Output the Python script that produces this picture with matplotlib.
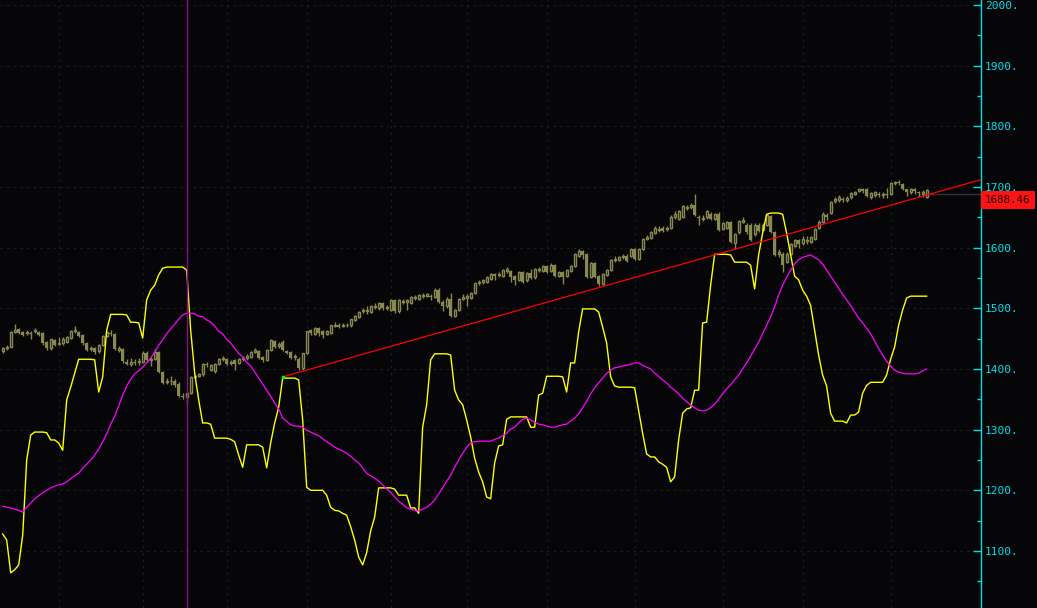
import matplotlib
matplotlib.use("Agg")
import matplotlib.pyplot as plt
from matplotlib.ticker import MultipleLocator, FuncFormatter
import numpy as np

# daily candles (bar index 0 = first bar on the left)
opens = [
    1429, 1434, 1437, 1461, 1466, 1461, 1459, 1460, 1462, 1461,
    1459, 1444, 1434, 1447, 1441, 1442, 1445, 1451, 1462, 1461,
    1456, 1442, 1433, 1434, 1429, 1440, 1455, 1460, 1457, 1432,
    1433, 1411, 1409, 1412, 1411, 1412, 1427, 1415, 1417, 1428,
    1395, 1378, 1380, 1380, 1375, 1356, 1353, 1360, 1387, 1389,
    1391, 1409, 1398, 1397, 1409, 1416, 1416, 1410, 1414, 1410,
    1416, 1418, 1420, 1428, 1430, 1420, 1415, 1431, 1446, 1438,
    1445, 1430, 1428, 1419, 1417, 1402, 1426, 1464, 1458, 1467,
    1463, 1458, 1460, 1471, 1473, 1471, 1472, 1472, 1481, 1486,
    1495, 1496, 1494, 1502, 1500, 1509, 1500, 1498, 1514, 1495,
    1510, 1511, 1509, 1517, 1516, 1520, 1521, 1521, 1519, 1531,
    1511, 1503, 1516, 1487, 1497, 1516, 1517, 1517, 1525, 1542,
    1543, 1544, 1549, 1556, 1555, 1554, 1562, 1561, 1553, 1547,
    1560, 1546, 1558, 1551, 1563, 1562, 1570, 1562, 1571, 1554,
    1560, 1553, 1562, 1570, 1586, 1594, 1589, 1552, 1575, 1553,
    1540, 1555, 1563, 1580, 1580, 1584, 1587, 1586, 1597, 1582,
    1598, 1615, 1616, 1624, 1629, 1633, 1631, 1633, 1650, 1648,
    1651, 1665, 1667, 1671, 1651, 1647, 1650, 1656, 1647, 1656,
    1631, 1632, 1642, 1607, 1625, 1643, 1638, 1638, 1622, 1638,
    1629, 1638, 1652, 1626, 1590, 1590, 1576, 1590, 1603, 1613,
    1607, 1611, 1610, 1615, 1632, 1643, 1653, 1657, 1677, 1679,
    1681, 1678, 1683, 1689, 1694, 1696, 1696, 1684, 1686, 1689,
    1686, 1689, 1689, 1706, 1708, 1705, 1696, 1691, 1696, 1691,
    1689, 1684,
]
closes = [
    1434, 1437, 1461, 1465, 1459, 1456, 1461, 1458, 1464, 1456,
    1442, 1434, 1449, 1440, 1443, 1450, 1452, 1463, 1464, 1455,
    1442, 1432, 1435, 1428, 1440, 1454, 1461, 1458, 1433, 1434,
    1413, 1409, 1412, 1410, 1413, 1427, 1414, 1417, 1428, 1395,
    1377, 1380, 1381, 1373, 1356, 1354, 1360, 1387, 1389, 1391,
    1409, 1407, 1406, 1409, 1416, 1418, 1409, 1412, 1408, 1416,
    1418, 1421, 1428, 1431, 1418, 1414, 1431, 1448, 1436, 1441,
    1431, 1427, 1418, 1421, 1401, 1426, 1462, 1460, 1468, 1460,
    1456, 1463, 1472, 1473, 1470, 1473, 1473, 1482, 1487, 1494,
    1497, 1498, 1504, 1504, 1509, 1500, 1502, 1514, 1495, 1513,
    1512, 1513, 1518, 1519, 1522, 1522, 1523, 1519, 1531, 1511,
    1503, 1516, 1487, 1497, 1516, 1518, 1520, 1525, 1541, 1544,
    1546, 1552, 1556, 1554, 1557, 1563, 1564, 1552, 1547, 1560,
    1544, 1558, 1550, 1564, 1565, 1570, 1560, 1572, 1554, 1560,
    1552, 1563, 1570, 1589, 1594, 1588, 1552, 1575, 1552, 1540,
    1557, 1563, 1580, 1582, 1585, 1586, 1578, 1597, 1582, 1597,
    1614, 1617, 1625, 1633, 1631, 1627, 1633, 1651, 1656, 1660,
    1669, 1667, 1671, 1654, 1649, 1649, 1660, 1647, 1655, 1629,
    1640, 1642, 1609, 1622, 1644, 1645, 1625, 1613, 1638, 1627,
    1638, 1653, 1626, 1588, 1593, 1572, 1590, 1606, 1613, 1606,
    1615, 1613, 1618, 1631, 1643, 1656, 1651, 1675, 1680, 1683,
    1679, 1682, 1690, 1691, 1696, 1694, 1685, 1690, 1691, 1686,
    1688, 1687, 1706, 1708, 1706, 1697, 1692, 1697, 1693, 1690,
    1691, 1695,
]
highs = [
    1436, 1439, 1462, 1474, 1468, 1463, 1464, 1463, 1468, 1463,
    1461, 1446, 1450, 1449, 1452, 1452, 1454, 1464, 1471, 1463,
    1458, 1444, 1438, 1436, 1441, 1456, 1463, 1465, 1459, 1438,
    1435, 1416, 1418, 1416, 1418, 1429, 1429, 1420, 1433, 1430,
    1397, 1385, 1388, 1383, 1378, 1360, 1362, 1388, 1392, 1394,
    1410, 1412, 1408, 1410, 1418, 1421, 1418, 1415, 1416, 1418,
    1421, 1424, 1430, 1435, 1432, 1422, 1433, 1449, 1448, 1445,
    1447, 1432, 1430, 1424, 1419, 1427, 1463, 1466, 1470, 1469,
    1465, 1465, 1473, 1477, 1475, 1476, 1475, 1483, 1489, 1496,
    1500, 1503, 1506, 1509, 1511, 1511, 1505, 1516, 1516, 1515,
    1515, 1516, 1520, 1522, 1524, 1526, 1526, 1524, 1533, 1533,
    1513, 1518, 1526, 1499, 1517, 1524, 1523, 1527, 1542, 1547,
    1549, 1554, 1558, 1558, 1560, 1565, 1568, 1563, 1555, 1562,
    1562, 1560, 1565, 1566, 1568, 1572, 1572, 1574, 1573, 1562,
    1562, 1565, 1572, 1591, 1597, 1596, 1591, 1577, 1577, 1555,
    1559, 1565, 1582, 1586, 1587, 1590, 1589, 1599, 1599, 1599,
    1616, 1621, 1627, 1635, 1635, 1635, 1636, 1653, 1660, 1662,
    1671, 1670, 1674, 1688, 1653, 1653, 1662, 1658, 1657, 1658,
    1642, 1644, 1644, 1624, 1646, 1650, 1640, 1640, 1640, 1640,
    1640, 1655, 1654, 1628, 1598, 1592, 1592, 1608, 1615, 1615,
    1620, 1619, 1620, 1633, 1645, 1658, 1657, 1677, 1683, 1686,
    1684, 1685, 1692, 1694, 1698, 1698, 1698, 1692, 1693, 1692,
    1691, 1698, 1708, 1710, 1711, 1707, 1697, 1699, 1698, 1694,
    1695, 1697,
]
lows = [
    1427, 1432, 1436, 1459, 1457, 1454, 1456, 1450, 1460, 1454,
    1440, 1432, 1432, 1438, 1439, 1440, 1443, 1449, 1460, 1453,
    1440, 1430, 1430, 1425, 1427, 1438, 1453, 1455, 1431, 1428,
    1410, 1406, 1405, 1406, 1407, 1410, 1411, 1405, 1414, 1393,
    1375, 1375, 1373, 1370, 1354, 1350, 1343, 1358, 1384, 1386,
    1389, 1404, 1396, 1393, 1407, 1413, 1407, 1407, 1399, 1408,
    1413, 1415, 1418, 1426, 1416, 1412, 1413, 1429, 1434, 1434,
    1429, 1424, 1416, 1415, 1399, 1399, 1425, 1456, 1456, 1455,
    1451, 1456, 1458, 1469, 1467, 1469, 1470, 1470, 1479, 1484,
    1492, 1491, 1492, 1499, 1498, 1498, 1497, 1496, 1493, 1493,
    1507, 1498, 1507, 1514, 1514, 1517, 1518, 1514, 1517, 1509,
    1496, 1501, 1485, 1485, 1495, 1513, 1503, 1515, 1523, 1539,
    1540, 1542, 1547, 1546, 1551, 1552, 1559, 1544, 1539, 1545,
    1542, 1544, 1548, 1549, 1560, 1560, 1558, 1560, 1552, 1552,
    1540, 1551, 1560, 1568, 1584, 1581, 1550, 1550, 1550, 1536,
    1538, 1553, 1561, 1577, 1578, 1581, 1576, 1584, 1580, 1580,
    1596, 1612, 1614, 1622, 1626, 1625, 1628, 1631, 1648, 1646,
    1649, 1662, 1664, 1652, 1637, 1644, 1648, 1645, 1645, 1627,
    1629, 1630, 1607, 1598, 1623, 1640, 1623, 1611, 1620, 1625,
    1627, 1636, 1624, 1586, 1585, 1560, 1574, 1588, 1601, 1600,
    1605, 1606, 1608, 1613, 1630, 1641, 1646, 1655, 1674, 1676,
    1675, 1675, 1681, 1686, 1691, 1690, 1683, 1680, 1684, 1683,
    1682, 1682, 1687, 1704, 1703, 1695, 1685, 1689, 1688, 1684,
    1684, 1682,
]

# indicator lines, one value per bar
yellow_line = [
    1128, 1118, 1064, 1069, 1077, 1126, 1250, 1291, 1296, 1296,
    1296, 1295, 1283, 1283, 1278, 1266, 1349, 1370, 1393, 1416,
    1416, 1416, 1416, 1415, 1362, 1387, 1464, 1490, 1490, 1490,
    1490, 1489, 1477, 1477, 1476, 1451, 1514, 1530, 1538, 1555,
    1566, 1568, 1568, 1568, 1568, 1568, 1563, 1464, 1393, 1349,
    1311, 1311, 1309, 1286, 1286, 1286, 1286, 1284, 1280, 1258,
    1238, 1275, 1275, 1275, 1275, 1271, 1237, 1278, 1311, 1337,
    1385, 1385, 1385, 1385, 1382, 1316, 1205, 1200, 1200, 1200,
    1200, 1192, 1172, 1167, 1166, 1162, 1159, 1140, 1118, 1090,
    1077, 1097, 1133, 1156, 1204, 1204, 1204, 1204, 1202, 1192,
    1192, 1192, 1171, 1171, 1162, 1304, 1341, 1415, 1425, 1425,
    1425, 1425, 1423, 1365, 1349, 1341, 1316, 1288, 1253, 1230,
    1214, 1189, 1186, 1245, 1273, 1275, 1317, 1321, 1321, 1321,
    1321, 1321, 1304, 1304, 1357, 1360, 1388, 1388, 1388, 1388,
    1387, 1362, 1410, 1410, 1461, 1499, 1499, 1499, 1499, 1494,
    1469, 1443, 1387, 1372, 1370, 1370, 1370, 1370, 1369, 1332,
    1294, 1260, 1255, 1255, 1247, 1243, 1238, 1214, 1222, 1283,
    1327, 1334, 1336, 1365, 1365, 1476, 1477, 1538, 1589, 1589,
    1589, 1589, 1588, 1576, 1576, 1576, 1576, 1571, 1532, 1588,
    1624, 1655, 1657, 1657, 1657, 1655, 1624, 1588, 1553, 1547,
    1530, 1520, 1505, 1464, 1423, 1390, 1372, 1327, 1314, 1314,
    1314, 1311, 1324, 1324, 1329, 1360, 1373, 1378, 1378, 1378,
    1378, 1390, 1416, 1436, 1472, 1497, 1517, 1520, 1520, 1520,
    1520, 1520,
]
magenta_line = [
    1174, 1172, 1171, 1169, 1167, 1164, 1172, 1179, 1186, 1191,
    1196, 1200, 1204, 1207, 1209, 1210, 1214, 1219, 1224, 1228,
    1237, 1243, 1250, 1258, 1268, 1280, 1293, 1309, 1322, 1339,
    1357, 1372, 1383, 1392, 1397, 1403, 1410, 1418, 1428, 1439,
    1448, 1458, 1466, 1474, 1482, 1489, 1492, 1492, 1491, 1487,
    1486, 1481, 1477, 1471, 1462, 1458, 1449, 1443, 1434, 1426,
    1420, 1411, 1405, 1395, 1385, 1375, 1365, 1355, 1344, 1334,
    1319, 1314, 1308, 1306, 1306, 1304, 1299, 1296, 1293, 1290,
    1285, 1280, 1276, 1271, 1268, 1265, 1261, 1256, 1250, 1245,
    1237, 1228, 1224, 1220, 1215, 1209, 1202, 1197, 1189, 1182,
    1177, 1171, 1169, 1167, 1166, 1169, 1172, 1177, 1184, 1194,
    1204, 1215, 1225, 1238, 1250, 1261, 1271, 1278, 1280, 1281,
    1281, 1281, 1281, 1284, 1286, 1290, 1294, 1301, 1304, 1311,
    1317, 1319, 1316, 1312, 1309, 1308, 1306, 1304, 1304, 1306,
    1308, 1309, 1314, 1319, 1326, 1336, 1347, 1359, 1369, 1377,
    1385, 1393, 1398, 1402, 1403, 1405, 1406, 1408, 1410, 1410,
    1406, 1403, 1400, 1393, 1388, 1382, 1377, 1370, 1365, 1359,
    1352, 1346, 1341, 1336, 1332, 1331, 1332, 1336, 1342, 1350,
    1359, 1367, 1374, 1382, 1390, 1400, 1410, 1421, 1433, 1444,
    1458, 1472, 1486, 1502, 1522, 1538, 1551, 1563, 1573, 1580,
    1584, 1586, 1588, 1584, 1580, 1573, 1563, 1553, 1543, 1533,
    1523, 1514, 1505, 1494, 1484, 1476, 1467, 1458, 1446, 1434,
    1423, 1413, 1405, 1398, 1395, 1393, 1392, 1392, 1392, 1393,
    1397, 1400,
]

month_starts = [14, 35, 56, 76, 97, 116, 136, 158, 180, 200, 222]
marker_bar = 46
trend_x = [70, 244.6]
trend_y = [1387, 1712]
last_price = 1688.46

# colours
BG = '#060609'
OLIVE = '#88884f'
CYAN = '#00dfe8'
GRID = '#202020'

fig = plt.figure(figsize=(10.37, 6.08), dpi=100, facecolor=BG)
ax = fig.add_axes([0, 0, 981 / 1037, 1])
ax.set_facecolor(BG)

x = np.arange(len(closes))
o = np.array(opens, dtype=float)
c = np.array(closes, dtype=float)
up = c >= o

# wicks then bodies (hollow = up day, filled = down day)
ax.vlines(x, lows, highs, color=OLIVE, lw=1.0, zorder=2)
ax.bar(x[up], (c - o)[up], bottom=o[up], width=0.55, facecolor=BG,
       edgecolor=OLIVE, lw=1.0, zorder=3)
ax.bar(x[~up], (o - c)[~up], bottom=c[~up], width=0.8, color=OLIVE,
       lw=0, zorder=3)

# indicators
ax.plot(x, yellow_line, color='#ffff00', lw=1.0, zorder=4)
ax.plot(x, magenta_line, color='#ff00ff', lw=0.9, zorder=4)

# trend line and marker line
ax.plot(trend_x, trend_y, color='#ff0000', lw=0.9, zorder=5)
ax.plot(trend_x[0], trend_y[0], marker='s', ms=2, color='#00ff00', zorder=6)
ax.axvline(marker_bar, color='#8a108a', lw=1.0, zorder=5)

# last price line + label
ax.hlines(last_price, x[-1], trend_x[1], color='#333333', lw=1.0, zorder=1)
ax.annotate(f"{last_price:.2f}", xy=(1, last_price),
            xycoords=('axes fraction', 'data'), xytext=(3, -4.3),
            textcoords='offset points', ha='left', va='center',
            color='#200000', fontsize=7.8, family='DejaVu Sans Mono',
            bbox=dict(boxstyle='square,pad=0.38', fc='#ff1414', ec='none'),
            annotation_clip=False)

ax.set_xlim(-0.675, 244.6)
ax.set_ylim(1006, 2008.2)

# axes styling
for side in ['left', 'top', 'bottom']:
    ax.spines[side].set_visible(False)
ax.spines['right'].set_color(CYAN)
ax.spines['right'].set_linewidth(1.0)
ax.yaxis.tick_right()
ax.yaxis.set_major_locator(MultipleLocator(100))
ax.yaxis.set_minor_locator(MultipleLocator(50))
ax.yaxis.set_major_formatter(FuncFormatter(lambda v, p: f"{v:.0f}."))
ax.tick_params(axis='y', which='major', direction='in', length=6, width=1,
               color=CYAN, labelcolor=CYAN, labelsize=8, pad=3)
ax.tick_params(axis='y', which='minor', direction='in', length=3, width=1,
               color=CYAN)
for lab in ax.get_yticklabels():
    lab.set_family('DejaVu Sans Mono')

ax.set_xticks(month_starts)
ax.tick_params(axis='x', length=0, labelbottom=False)
ax.grid(True, which='major', color=GRID, linestyle=(0, (2, 4)), lw=0.8)

fig.savefig('out.png', dpi=100, facecolor=BG)
